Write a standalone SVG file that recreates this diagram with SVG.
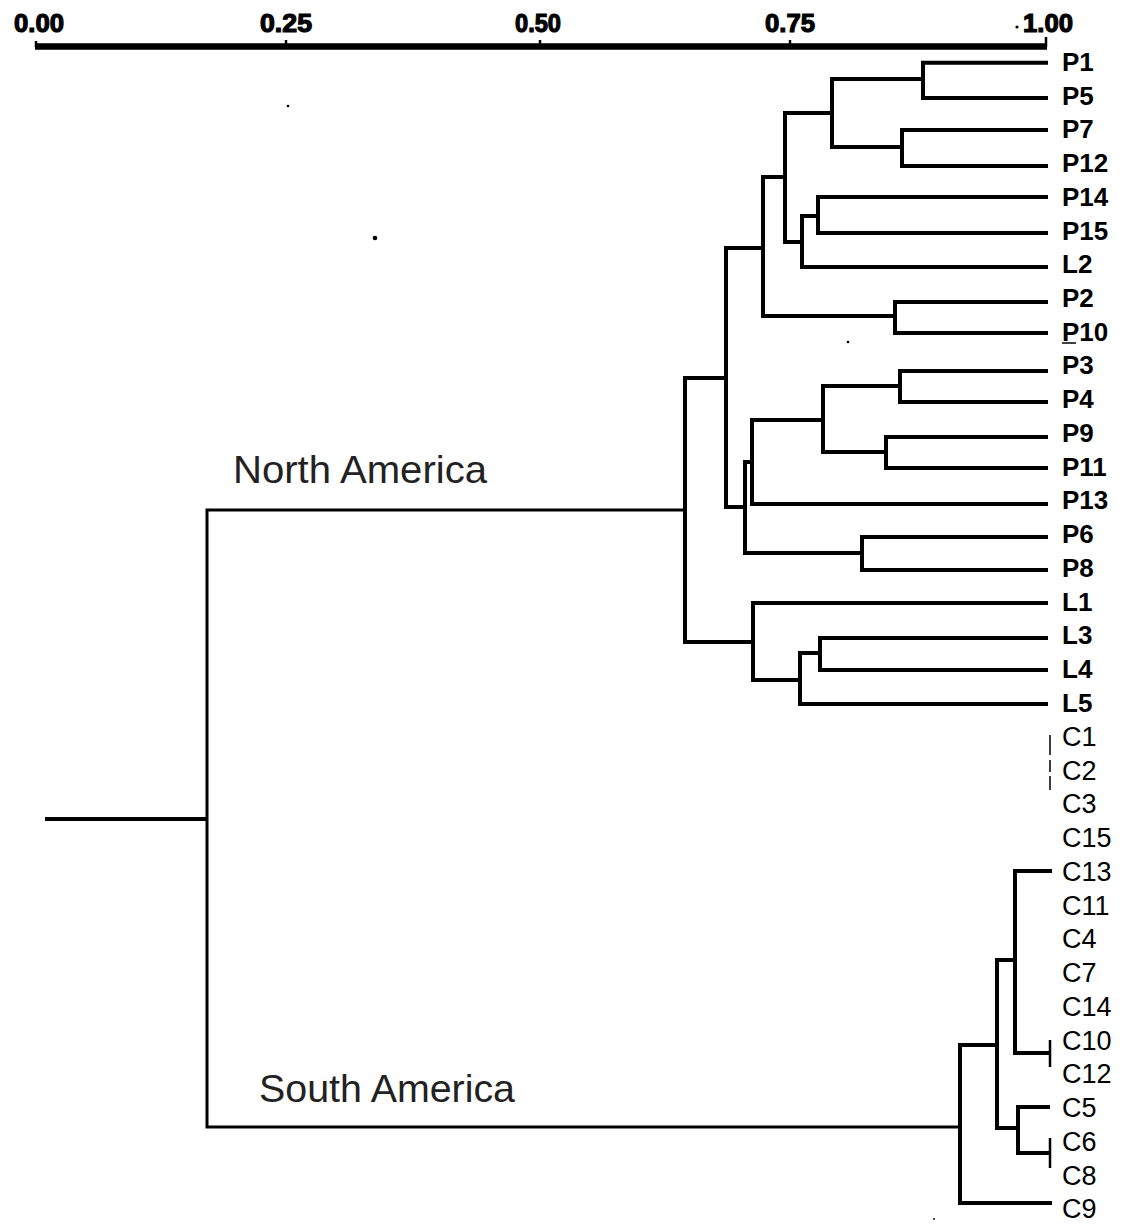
<svg xmlns="http://www.w3.org/2000/svg" width="1125" height="1230" viewBox="0 0 1125 1230">
<style>
.ax{font-family:"Liberation Sans",Arial,sans-serif;font-weight:bold;font-size:26px;fill:#000;stroke:#000;stroke-width:1.2px;text-anchor:middle}
.lp{font-family:"Liberation Sans",Arial,sans-serif;font-weight:bold;font-size:26px;fill:#000}
.lc{font-family:"Liberation Sans",Arial,sans-serif;font-size:27px;fill:#000}
.reg{font-family:"Liberation Sans",Arial,sans-serif;font-size:39px;fill:#222}
.br{fill:none;stroke:#000;stroke-width:4;stroke-linejoin:miter;stroke-linecap:butt}
.thin{fill:none;stroke:#000;stroke-width:3}
</style>
<rect width="1125" height="1230" fill="#fff"/>
<g id="axis">
<path d="M35,46.5 H1047" stroke="#000" stroke-width="6.5" fill="none"/>
<path d="M36,47 V41 M286,46 V40 M540,46 V40 M790,46 V40 M1046,47 V37" stroke="#000" stroke-width="2.5" fill="none"/>
<text class="ax" x="39" y="32" textLength="50" lengthAdjust="spacingAndGlyphs">0.00</text>
<text class="ax" x="286" y="32" textLength="52" lengthAdjust="spacingAndGlyphs">0.25</text>
<text class="ax" x="538" y="32" textLength="46" lengthAdjust="spacingAndGlyphs">0.50</text>
<text class="ax" x="790" y="32" textLength="50" lengthAdjust="spacingAndGlyphs">0.75</text>
<text class="ax" x="1048" y="32" textLength="50" lengthAdjust="spacingAndGlyphs">1.00</text>
<circle cx="1017" cy="27" r="1.6" fill="#000"/>
</g>
<g id="connectors">
<path class="br" d="M1048,62.7 H923 V98 H1048"/>
<path class="br" d="M1048,130 H902 V166 H1048"/>
<path class="br" d="M923,79 H832 V147 H902"/>
<path class="br" d="M1048,197 H818 V233 H1048"/>
<path class="br" d="M818,216 H802 V267 H1048"/>
<path class="br" d="M832,113 H785 V242 H802"/>
<path class="br" d="M1048,302 H895 V333 H1048"/>
<path class="br" d="M785,177 H763 V316 H895"/>
<path class="br" d="M1048,371 H900 V402 H1048"/>
<path class="br" d="M1048,437 H886 V468 H1048"/>
<path class="br" d="M900,386 H823 V452 H886"/>
<path class="br" d="M823,420 H752 V504 H1048"/>
<path class="br" d="M1048,537 H862 V570 H1048"/>
<path class="br" d="M752,462 H745 V553 H862"/>
<path class="br" d="M763,248 H726 V507 H745"/>
<path class="br" d="M1048,638 H820 V670 H1048"/>
<path class="br" d="M820,653 H800 V704 H1048"/>
<path class="br" d="M1048,603 H753 V680 H800"/>
<path class="br" d="M726,378 H685 V642 H753"/>
<path class="thin" d="M685,510 H207 V1127 H960"/>
<path class="br" d="M45,819 H207"/>
<path class="br" d="M1052,871 H1015 V1053 H1050"/>
<path class="br" d="M1050,1107 H1018 V1153 H1050"/>
<path class="br" d="M1015,960 H997 V1128 H1018"/>
<path class="br" d="M997,1045 H960 V1203 H1052"/>
<path d="M1050,1040 V1067 M1050,1138 V1168" stroke="#000" stroke-width="2.5" fill="none"/>
<path d="M1050,735 V790" stroke="#000" stroke-width="1.5" stroke-dasharray="20,5,12,4" fill="none"/>
</g>
<g id="region-labels">
<text id="north-america" class="reg" x="233" y="483" textLength="254" lengthAdjust="spacingAndGlyphs">North America</text>
<text id="south-america" class="reg" x="259" y="1102" textLength="256" lengthAdjust="spacingAndGlyphs">South America</text>
</g>
<g id="leaves">
<g id="P1"><text class="lp" x="1062" y="71">P1</text></g>
<g id="P5"><text class="lp" x="1062" y="105">P5</text></g>
<g id="P7"><text class="lp" x="1062" y="138">P7</text></g>
<g id="P12"><text class="lp" x="1062" y="172">P12</text></g>
<g id="P14"><text class="lp" x="1062" y="206">P14</text></g>
<g id="P15"><text class="lp" x="1062" y="240">P15</text></g>
<g id="L2"><text class="lp" x="1062" y="273">L2</text></g>
<g id="P2"><text class="lp" x="1062" y="307">P2</text></g>
<g id="P10"><text class="lp" x="1062" y="341">P10</text><path d="M1062,343 H1076" stroke="#000" stroke-width="1.5"/></g>
<g id="P3"><text class="lp" x="1062" y="374">P3</text></g>
<g id="P4"><text class="lp" x="1062" y="408">P4</text></g>
<g id="P9"><text class="lp" x="1062" y="442">P9</text></g>
<g id="P11"><text class="lp" x="1062" y="476">P11</text></g>
<g id="P13"><text class="lp" x="1062" y="509">P13</text></g>
<g id="P6"><text class="lp" x="1062" y="543">P6</text></g>
<g id="P8"><text class="lp" x="1062" y="577">P8</text></g>
<g id="L1"><text class="lp" x="1062" y="611">L1</text></g>
<g id="L3"><text class="lp" x="1062" y="644">L3</text></g>
<g id="L4"><text class="lp" x="1062" y="678">L4</text></g>
<g id="L5"><text class="lp" x="1062" y="712">L5</text></g>
<g id="C1"><text class="lc" x="1062" y="746">C1</text></g>
<g id="C2"><text class="lc" x="1062" y="780">C2</text></g>
<g id="C3"><text class="lc" x="1062" y="813">C3</text></g>
<g id="C15"><text class="lc" x="1062" y="847">C15</text></g>
<g id="C13"><text class="lc" x="1062" y="881">C13</text></g>
<g id="C11"><text class="lc" x="1062" y="915">C11</text></g>
<g id="C4"><text class="lc" x="1062" y="948">C4</text></g>
<g id="C7"><text class="lc" x="1062" y="982">C7</text></g>
<g id="C14"><text class="lc" x="1062" y="1016">C14</text></g>
<g id="C10"><text class="lc" x="1062" y="1050">C10</text></g>
<g id="C12"><text class="lc" x="1062" y="1083">C12</text></g>
<g id="C5"><text class="lc" x="1062" y="1117">C5</text></g>
<g id="C6"><text class="lc" x="1062" y="1151">C6</text></g>
<g id="C8"><text class="lc" x="1062" y="1185">C8</text></g>
<g id="C9"><text class="lc" x="1062" y="1218">C9</text></g>
</g>
<g id="specks" fill="#000">
<circle cx="288" cy="106" r="1.3"/>
<circle cx="375" cy="238" r="2.3"/>
<circle cx="848" cy="342" r="1.3"/>
<circle cx="934" cy="1219" r="0.9"/>
</g>
</svg>
